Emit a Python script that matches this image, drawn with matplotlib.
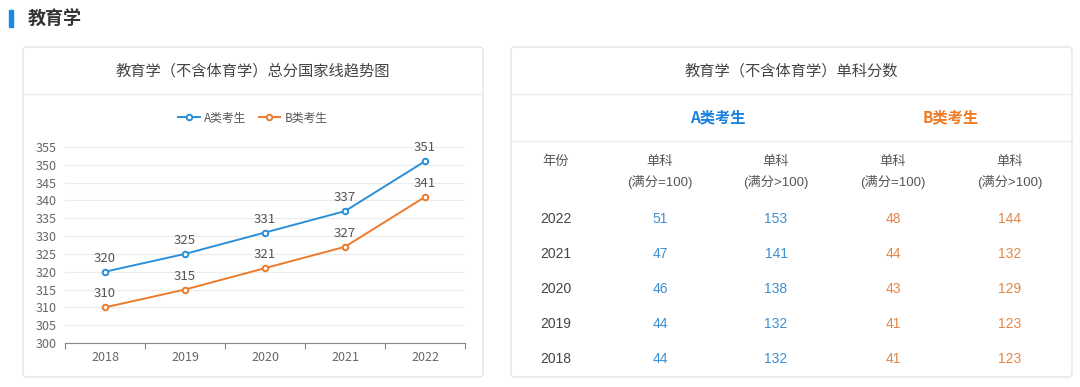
import matplotlib.pyplot as plt
from matplotlib.patches import FancyBboxPatch, Rectangle

plt.rcParams['font.family'] = ['Noto Sans CJK SC', 'DejaVu Sans']

# data
years = ['2018', '2019', '2020', '2021', '2022']
score_a = [320, 325, 331, 337, 351]
score_b = [310, 315, 321, 327, 341]

table_years = ['2022', '2021', '2020', '2019', '2018']
a_eq100 = [51, 47, 46, 44, 44]
a_gt100 = [153, 141, 138, 132, 132]
b_eq100 = [48, 44, 43, 41, 41]
b_gt100 = [144, 132, 129, 123, 123]

BLUE = '#2a8fd6'
ORANGE = '#ec7b2c'
GRAY = '#666666'
W, H = 1080, 387
TBL_FONT = ['Liberation Sans', 'Noto Sans CJK SC']

fig = plt.figure(figsize=(W / 100, H / 100), dpi=100)
fig.patch.set_facecolor('white')

# background axes in pixel coords
bg = fig.add_axes([0, 0, 1, 1], zorder=0)
bg.set_xlim(0, W)
bg.set_ylim(H, 0)
bg.axis('off')

# section heading
bg.add_patch(Rectangle((9, 10), 4, 17, color='#1e88e5'))
bg.text(28, 19, '教育学', fontsize=13, fontweight='bold', color='#333333', va='center', ha='left')

# cards
for x0, x1 in [(23, 483), (511, 1072)]:
    bg.add_patch(FancyBboxPatch((x0, 47), x1 - x0, 330, boxstyle='round,pad=0,rounding_size=4',
                                facecolor='white', edgecolor='#e4e4e4', linewidth=1))
    bg.plot([x0, x1], [94, 94], color='#ececec', lw=1)

bg.text(253, 71, '教育学（不含体育学）总分国家线趋势图', fontsize=11, color='#444444', ha='center', va='center')
bg.text(791, 71, '教育学（不含体育学）单科分数', fontsize=11, color='#444444', ha='center', va='center')

# line chart
ax = fig.add_axes([65 / W, 1 - 343 / H, 400 / W, 196 / H], zorder=1)
ax.set_facecolor('none')
xs = range(len(years))
la, = ax.plot(xs, score_a, color=BLUE, lw=1.4, marker='o', ms=4, mfc='white', mew=1.4, label='A类考生', zorder=3)
lb, = ax.plot(xs, score_b, color=ORANGE, lw=1.4, marker='o', ms=4, mfc='white', mew=1.4, label='B类考生', zorder=3)
for x, a, b in zip(xs, score_a, score_b):
    ax.annotate(str(a), (x, a), xytext=(0, 5), textcoords='offset points', ha='center', va='bottom',
                fontsize=9.5, color='#555555')
    ax.annotate(str(b), (x, b), xytext=(0, 5), textcoords='offset points', ha='center', va='bottom',
                fontsize=9.5, color='#555555')
ax.set_xlim(-0.5, len(years) - 0.5)
ax.set_ylim(300, 355)
ax.set_yticks(range(300, 356, 5))
ax.set_xticks(list(xs))
ax.set_xticklabels(years)
ax.set_xticks([i - 0.5 for i in range(len(years) + 1)], minor=True)
ax.tick_params(axis='x', which='major', length=0, pad=6, labelsize=9, labelcolor=GRAY)
ax.tick_params(axis='x', which='minor', length=4, color='#888888', width=0.8)
ax.tick_params(axis='y', length=0, pad=6, labelsize=9, labelcolor=GRAY)
ax.grid(axis='y', color='#ececec', lw=0.8)
ax.set_axisbelow(True)
for s in ['top', 'right', 'left']:
    ax.spines[s].set_visible(False)
ax.spines['bottom'].set_color('#888888')
ax.spines['bottom'].set_linewidth(0.8)

ax.legend(handles=[la, lb], loc='center', bbox_to_anchor=(253 / W, 1 - 118 / H), bbox_transform=fig.transFigure,
          ncol=2, frameon=False, fontsize=8.5, handlelength=1.8, columnspacing=1.0, handletextpad=0.4,
          labelcolor='#555555')

# table
bg.text(718, 117, 'A类考生', fontsize=11, fontweight='bold', color='#1a82dc', ha='center', va='center')
bg.text(951, 117, 'B类考生', fontsize=11, fontweight='bold', color='#f07a22', ha='center', va='center')
bg.plot([511, 1072], [141, 141], color='#ececec', lw=1)

col_x = [556, 660, 776, 893, 1010]
bg.text(col_x[0], 162, '年份', fontsize=9.5, color='#555555', ha='center', va='center', family=TBL_FONT)
for cx, sub in zip(col_x[1:], ['(满分=100)', '(满分>100)', '(满分=100)', '(满分>100)']):
    bg.text(cx, 162, '单科', fontsize=9.5, color='#555555', ha='center', va='center', family=TBL_FONT)
    bg.text(cx, 182, sub, fontsize=9.5, color='#555555', ha='center', va='center', family=TBL_FONT)

row_y = [219, 254, 289, 324, 359]
cols = [(a_eq100, '#3d8fd4'), (a_gt100, '#3d8fd4'), (b_eq100, '#e58548'), (b_gt100, '#e58548')]
for i, (yr, ry) in enumerate(zip(table_years, row_y)):
    bg.text(col_x[0], ry, yr, fontsize=10, color='#444444', ha='center', va='center', family=TBL_FONT)
    for cx, (vals, c) in zip(col_x[1:], cols):
        bg.text(cx, ry, str(vals[i]), fontsize=10, color=c, ha='center', va='center', family=TBL_FONT)

fig.savefig('out.png', dpi=100, facecolor='white')
